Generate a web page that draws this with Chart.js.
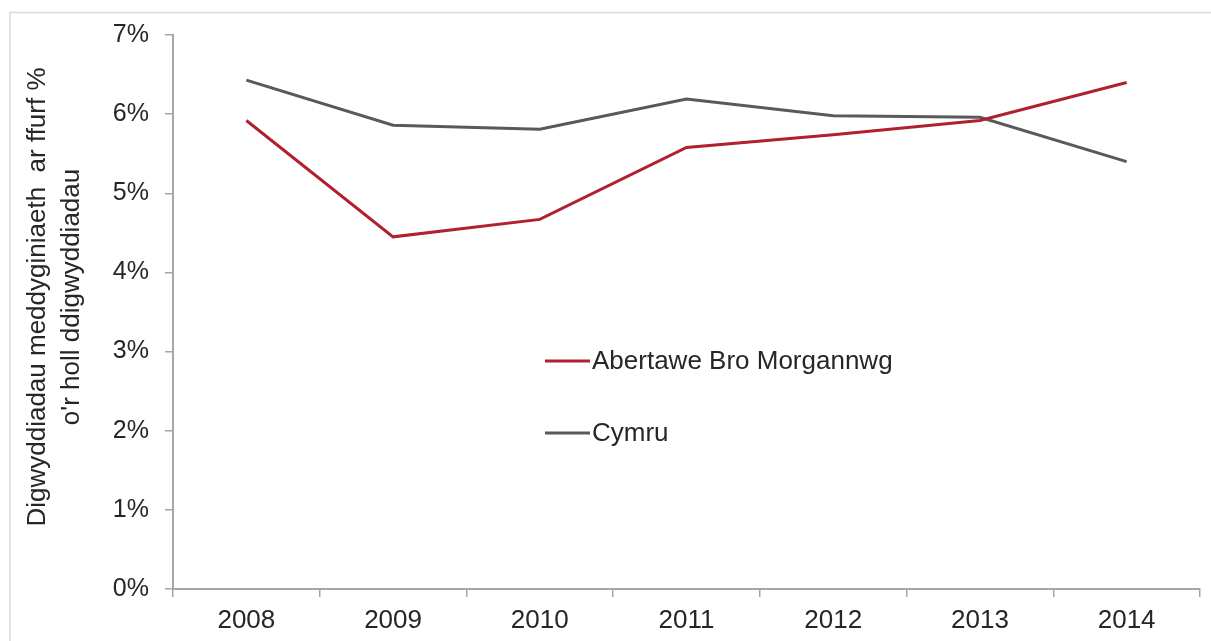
<!DOCTYPE html>
<html>
<head>
<meta charset="utf-8">
<script src="https://cdn.jsdelivr.net/npm/chart.js@4/dist/chart.umd.min.js"></script>
<style>
html,body{margin:0;padding:0;background:#fff;}
#wrap{width:1211px;height:641px;position:relative;}
</style>
</head>
<body>
<div id="wrap"><canvas id="c" width="1211" height="641"></canvas></div>
<script>
const years = ['2008','2009','2010','2011','2012','2013','2014'];
const abmValues = [5.92, 4.45, 4.67, 5.58, 5.74, 5.92, 6.40];
const cymruValues = [6.43, 5.86, 5.81, 6.19, 5.98, 5.96, 5.40];
const seriesNames = ['Abertawe Bro Morgannwg', 'Cymru'];
const yTitle = ['Digwyddiadau meddyginiaeth  ar ffurf %', 'o\'r holl ddigwyddiadau'];

const FONT = 'Liberation Sans, Arial, sans-serif';
const TXT = '#262626';

const framePlugin = {
  id: 'frame',
  beforeDraw(chart) {
    const ctx = chart.ctx;
    ctx.save();
    ctx.fillStyle = '#fff';
    ctx.fillRect(0, 0, chart.width, chart.height);
    ctx.strokeStyle = '#d9d9d9';
    ctx.lineWidth = 1.5;
    ctx.beginPath();
    ctx.moveTo(10, 641);
    ctx.lineTo(10, 12.5);
    ctx.lineTo(1211, 12.5);
    ctx.stroke();
    ctx.restore();
  }
};

// y-axis title (two lines, rotated), placed as in the reference
const yTitlePlugin = {
  id: 'yTitle',
  afterDraw(chart) {
    const ctx = chart.ctx;
    const xs = [38, 72];
    ctx.save();
    ctx.font = '26px ' + FONT;
    ctx.fillStyle = TXT;
    ctx.textAlign = 'center';
    ctx.textBaseline = 'middle';
    yTitle.forEach((t, i) => {
      ctx.save();
      ctx.translate(xs[i], 297);
      ctx.rotate(-Math.PI / 2);
      ctx.fillText(t, 0, 0);
      ctx.restore();
    });
    ctx.restore();
  }
};

const legendPlugin = {
  id: 'inLegend',
  afterDatasetsDraw(chart) {
    const ctx = chart.ctx;
    const x0 = 545, ys = [361, 433];
    ctx.save();
    ctx.font = '26px ' + FONT;
    ctx.textBaseline = 'middle';
    ctx.textAlign = 'left';
    chart.data.datasets.forEach((ds, i) => {
      ctx.strokeStyle = ds.borderColor;
      ctx.lineWidth = 3;
      ctx.beginPath();
      ctx.moveTo(x0, ys[i]);
      ctx.lineTo(x0 + 45, ys[i]);
      ctx.stroke();
      ctx.fillStyle = TXT;
      ctx.fillText(ds.label, x0 + 47, ys[i] + 1);
    });
    ctx.restore();
  }
};

new Chart(document.getElementById('c'), {
  type: 'line',
  data: {
    labels: years,
    datasets: [
      { label: seriesNames[0], data: abmValues, borderColor: '#b0202e', borderWidth: 3, pointRadius: 0, tension: 0 },
      { label: seriesNames[1], data: cymruValues, borderColor: '#595959', borderWidth: 3, pointRadius: 0, tension: 0 }
    ]
  },
  options: {
    responsive: false,
    animation: false,
    layout: { padding: { left: 0, right: 11, top: 35, bottom: 0 } },
    plugins: { legend: { display: false }, tooltip: { enabled: false } },
    scales: {
      x: {
        offset: true,
        grid: { offset: true, drawOnChartArea: false, tickLength: 8, color: '#a6a6a6', lineWidth: 1.5 },
        border: { color: '#a6a6a6', width: 2 },
        ticks: { color: TXT, font: { family: FONT, size: 26 }, padding: 8, maxRotation: 0 },
        afterFit(s) { s.height = 52; }
      },
      y: {
        min: 0, max: 7,
        grid: { drawOnChartArea: false, tickLength: 8, color: '#a6a6a6', lineWidth: 1.5 },
        border: { color: '#a6a6a6', width: 2 },
        ticks: { stepSize: 1, color: TXT, font: { family: FONT, size: 25 }, padding: 16, callback: v => v + '%' },
        afterFit(s) { s.width = 173; }
      }
    }
  },
  plugins: [framePlugin, yTitlePlugin, legendPlugin]
});
</script>
</body>
</html>
